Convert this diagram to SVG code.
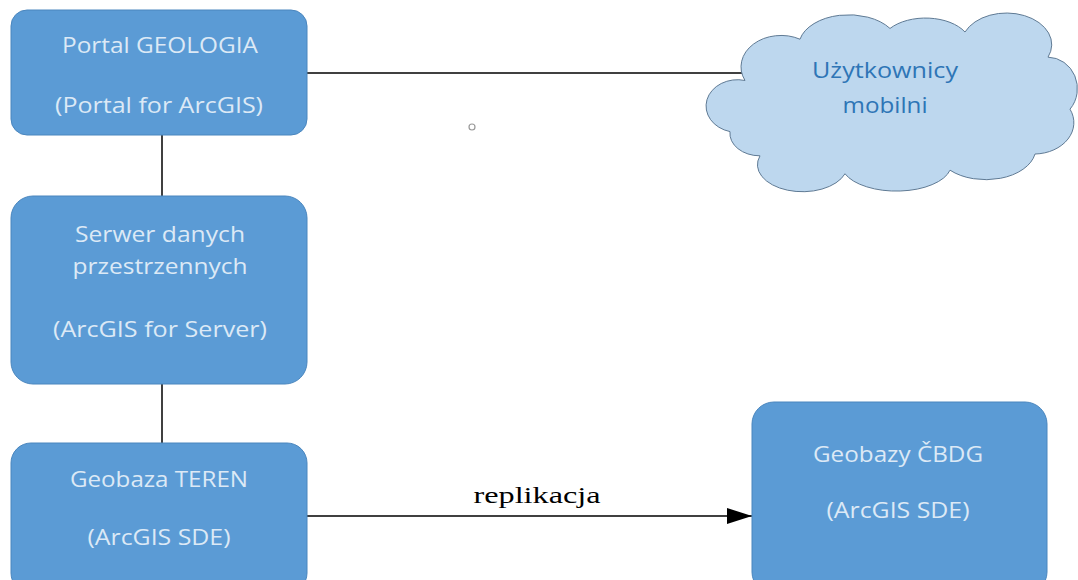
<svg xmlns="http://www.w3.org/2000/svg" width="1078" height="580" viewBox="0 0 1078 580">
<defs>
<style>
.box{fill:#5B9BD5;stroke:#4A86BE;stroke-width:1}
.t{font-family:"Open Sans","Noto Sans",sans-serif;font-size:22px;fill:#DCE9F6;text-anchor:middle}
.ct{font-family:"Open Sans","Noto Sans",sans-serif;font-size:22px;fill:#2E75B6;text-anchor:middle}
.ln{stroke:#000;stroke-width:1.5;fill:none}
</style>
<marker id="ah" markerWidth="25" markerHeight="16" refX="25" refY="8" orient="auto" markerUnits="userSpaceOnUse">
<path d="M0,0 L25,8 L0,16 Z" fill="#000"/>
</marker>
</defs>
<rect width="1078" height="580" fill="#fff"/>
<g id="connectors">
<line class="ln" x1="162" y1="135" x2="162" y2="196"/>
<line class="ln" x1="162" y1="384" x2="162" y2="443"/>
<line class="ln" x1="307" y1="73" x2="744" y2="73"/>
<line class="ln" x1="307" y1="516" x2="752" y2="516" marker-end="url(#ah)"/>
<text x="537" y="503" font-family="Liberation Serif,serif" font-size="24" text-anchor="middle" fill="#000" textLength="127" lengthAdjust="spacingAndGlyphs">replikacja</text>
</g>
<g id="portal">
<rect class="box" x="11" y="10" width="296" height="125" rx="16"/>
<text class="t" x="160" y="53" textLength="196" lengthAdjust="spacingAndGlyphs">Portal GEOLOGIA</text>
<text class="t" x="159" y="113" textLength="208" lengthAdjust="spacingAndGlyphs">(Portal for ArcGIS)</text>
</g>
<g id="serwer">
<rect class="box" x="11" y="196" width="296" height="188" rx="22"/>
<text class="t" x="160" y="242" textLength="170" lengthAdjust="spacingAndGlyphs">Serwer danych</text>
<text class="t" x="160" y="274" textLength="175" lengthAdjust="spacingAndGlyphs">przestrzennych</text>
<text class="t" x="160" y="337" textLength="214" lengthAdjust="spacingAndGlyphs">(ArcGIS for Server)</text>
</g>
<g id="teren">
<rect class="box" x="11" y="443" width="296" height="150" rx="20"/>
<text class="t" x="159" y="487" textLength="178" lengthAdjust="spacingAndGlyphs">Geobaza TEREN</text>
<text class="t" x="159" y="545" textLength="143" lengthAdjust="spacingAndGlyphs">(ArcGIS SDE)</text>
</g>
<g id="cbdg">
<rect class="box" x="752" y="402" width="295" height="192" rx="22"/>
<text class="t" x="898" y="462" textLength="170" lengthAdjust="spacingAndGlyphs">Geobazy ČBDG</text>
<text class="t" x="898" y="518" textLength="143" lengthAdjust="spacingAndGlyphs">(ArcGIS SDE)</text>
</g>
<g id="cloud">
<path transform="translate(0,10.5) scale(1,0.897)" vector-effect="non-scaling-stroke" d="M745,78 A40 35 0 0 1 800,32 A50 35 0 0 1 890,20 A45 30 0 0 1 965,24 A45 35 0 0 1 1048,52 A30 35 0 0 1 1070,110 A40 35 0 0 1 1035,160 A50 35 0 0 1 950,178 A55 30 0 0 1 845,182 A45 30 0 0 1 760,162 A30 25 0 0 1 730,135 A30 28 0 0 1 745,78 Z" fill="#BDD7EE" stroke="#5F7A94" stroke-width="1"/>
<text class="ct" x="885" y="78" textLength="146" lengthAdjust="spacingAndGlyphs">Użytkownicy</text>
<text class="ct" x="885" y="113" textLength="85" lengthAdjust="spacingAndGlyphs">mobilni</text>
</g>
<circle cx="472" cy="127" r="3" fill="none" stroke="#999" stroke-width="1.2"/>
</svg>
